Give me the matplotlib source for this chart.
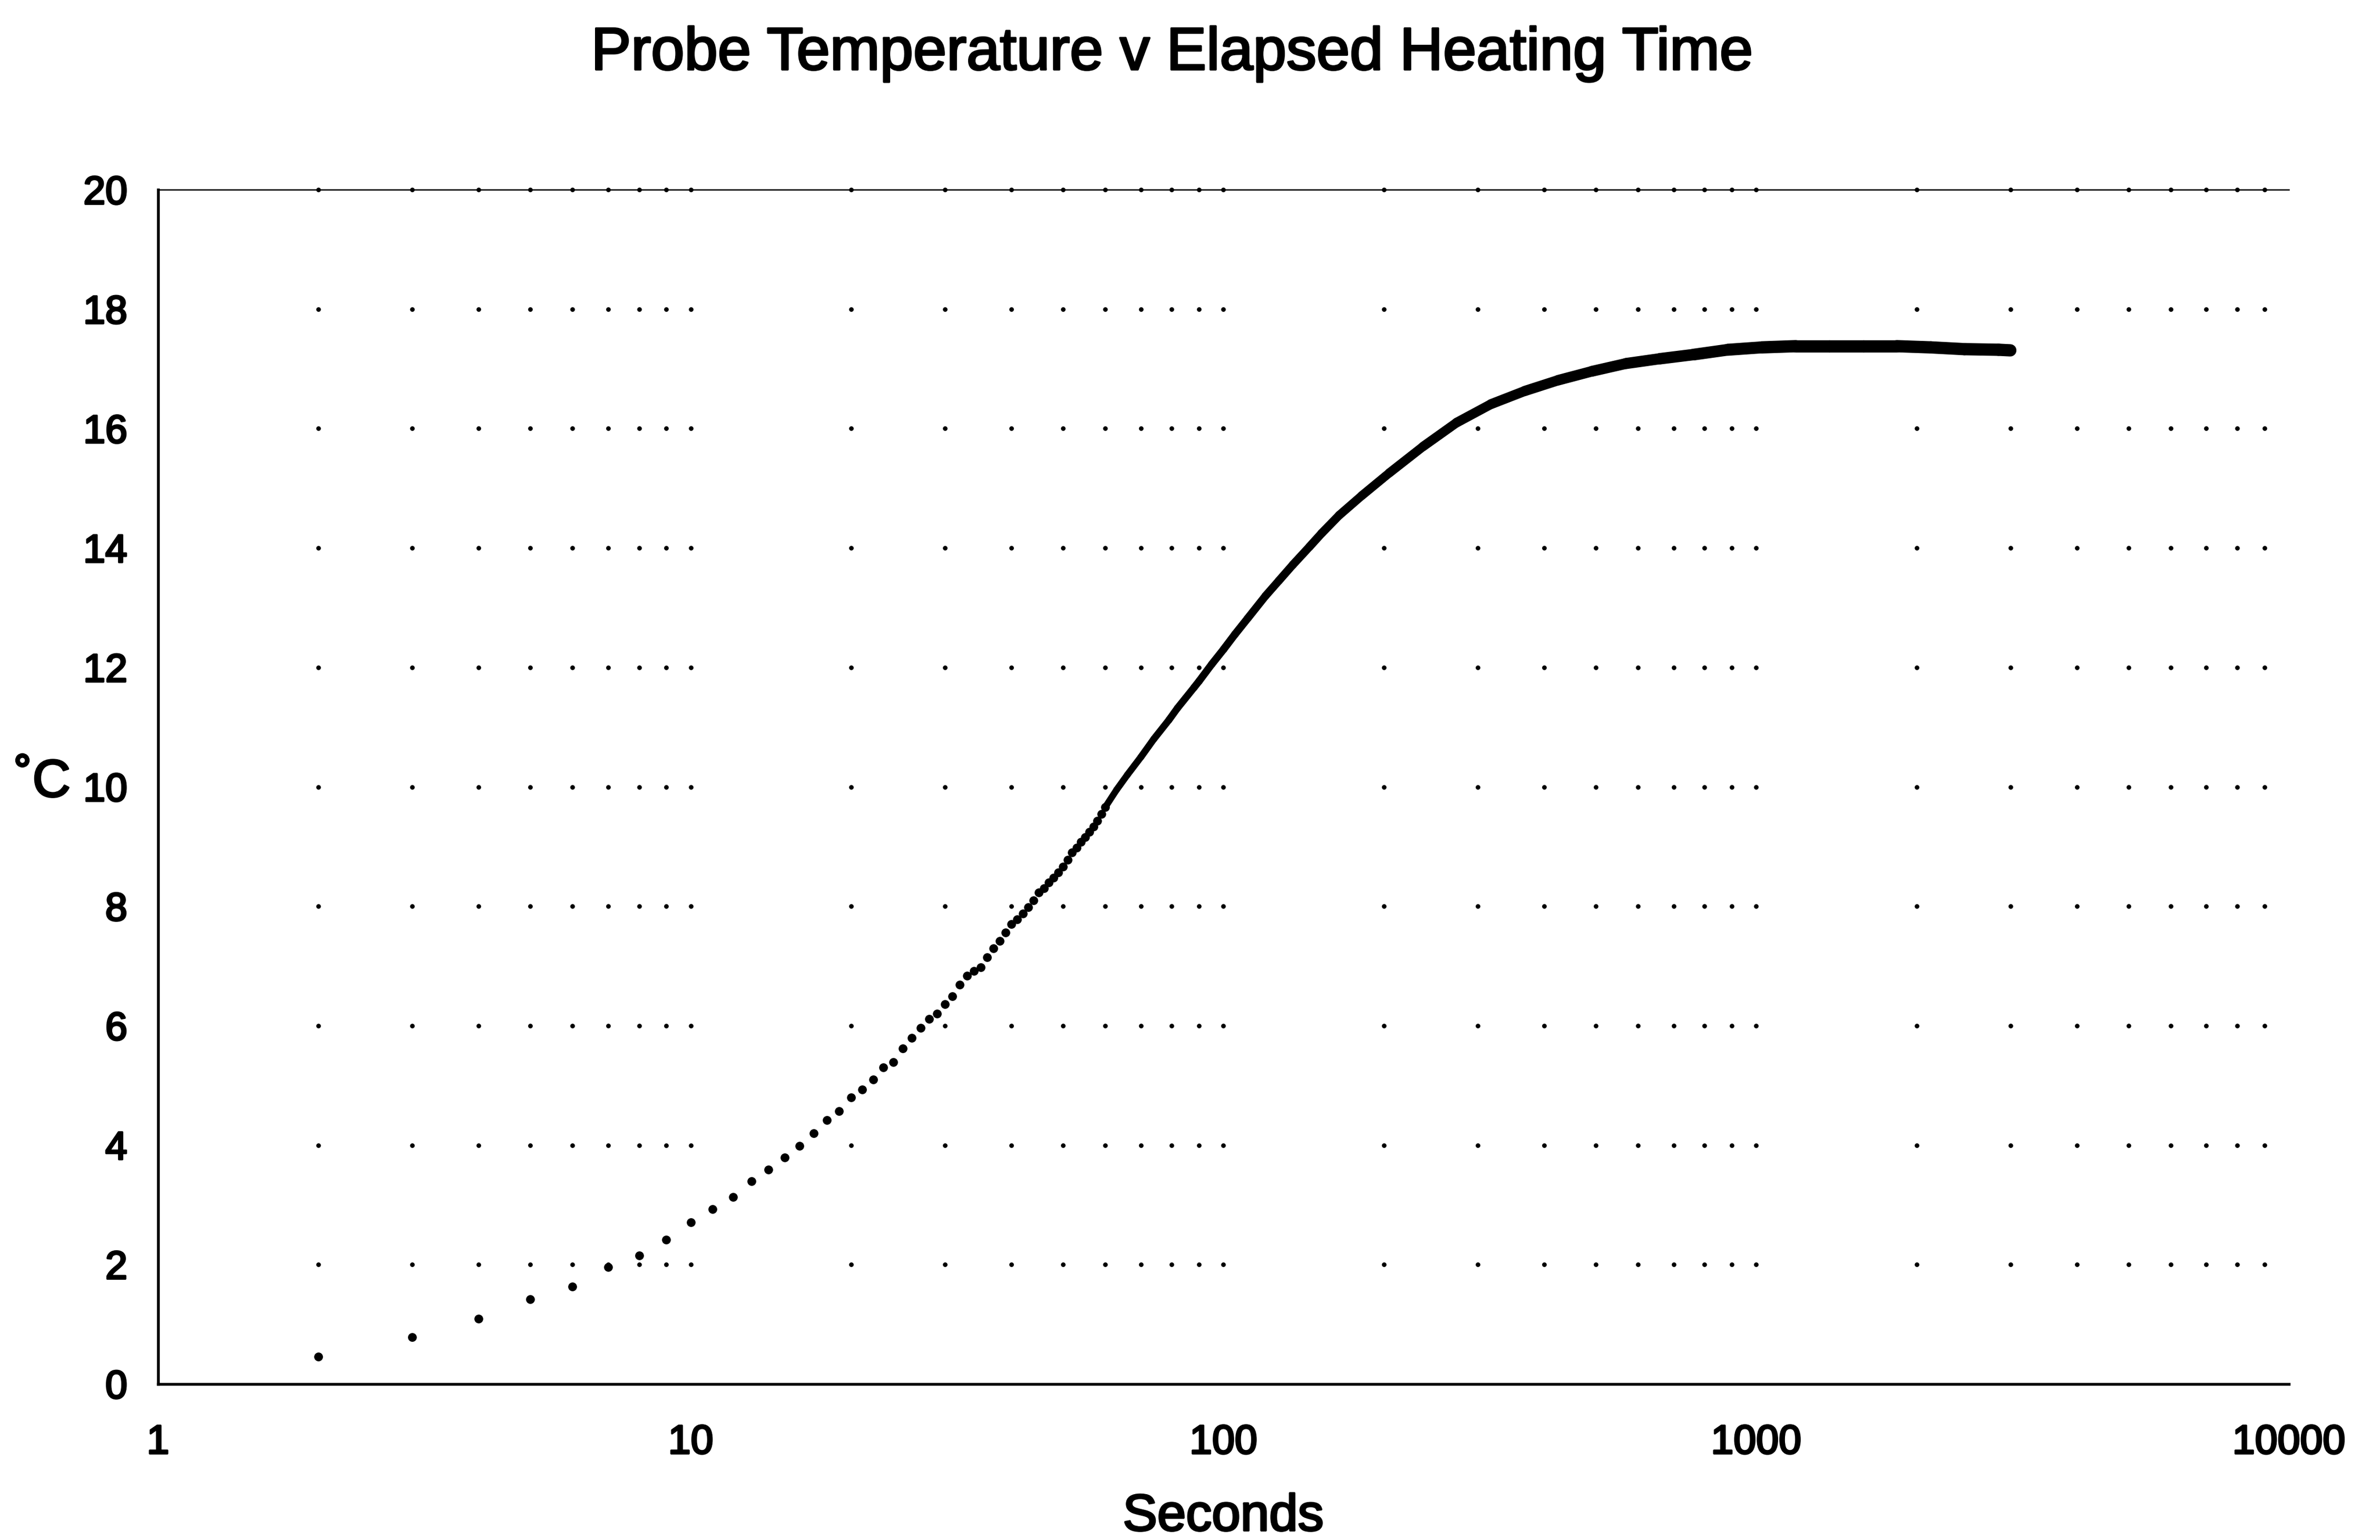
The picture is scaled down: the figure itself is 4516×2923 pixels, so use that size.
import matplotlib
matplotlib.use("Agg")
import matplotlib.pyplot as plt
import matplotlib.patheffects as pe
from matplotlib.collections import LineCollection
import numpy as np

plt.rcParams['font.family'] = ['Liberation Sans', 'DejaVu Sans']

# ---- data ----
# 1-second samples, individually visible in the early part
early_time = list(range(2, 61))
early_temp = [0.46, 0.78, 1.09, 1.42, 1.63, 1.96, 2.15, 2.42, 2.71, 2.93,
              3.13, 3.40, 3.59, 3.79, 3.99, 4.20, 4.42, 4.57, 4.80, 4.93,
              5.10, 5.30, 5.39, 5.62, 5.80, 5.96, 6.11, 6.20, 6.36, 6.49,
              6.69, 6.84, 6.92, 6.98, 7.15, 7.30, 7.42, 7.56, 7.70, 7.78,
              7.88, 7.98, 8.10, 8.23, 8.30, 8.40, 8.48, 8.57, 8.66, 8.78,
              8.90, 8.98, 9.08, 9.16, 9.25, 9.33, 9.43, 9.55, 9.66]
# later part, where the samples merge into a solid band
late_time = [60, 63, 66, 70, 74, 79, 82, 88, 90, 95, 100, 105, 111, 120, 127,
             135, 145, 153, 165, 182, 205, 237, 274, 318, 368, 425, 492, 570,
             660, 764, 885, 1024, 1186, 1372, 1589, 1838, 2128, 2460, 2850, 3000]
late_temp = [9.66, 9.95, 10.20, 10.50, 10.80, 11.12, 11.32, 11.66, 11.77, 12.05,
             12.30, 12.55, 12.82, 13.20, 13.45, 13.72, 14.02, 14.25, 14.55, 14.88,
             15.26, 15.70, 16.10, 16.41, 16.63, 16.81, 16.96, 17.09, 17.17, 17.24,
             17.32, 17.36, 17.38, 17.38, 17.38, 17.38, 17.36, 17.33, 17.32, 17.31]

x_ticks = [1, 10, 100, 1000, 10000]
x_ticklabels = ["1", "10", "100", "1000", "10000"]
y_ticks = [0, 2, 4, 6, 8, 10, 12, 14, 16, 18, 20]

title = "Probe Temperature v Elapsed Heating Time"
xlabel = "Seconds"
ylabel = "˚C"

thick = [pe.withStroke(linewidth=0.9, foreground="black")]

# ---- figure ----
fig = plt.figure(figsize=(4516 / 300, 2923 / 300), dpi=300)
ax = fig.add_axes([0.0664, 0.1013, 0.8953, 0.7755])
ax.set_xscale("log")
ax.set_xlim(1, 10000)
ax.set_ylim(0, 20)

# dotted grid, showing as dots at grid intersections
minor_x = [m * d for d in x_ticks[:-1] for m in range(1, 10)]
gx, gy = np.meshgrid([v for v in minor_x if v > 1], y_ticks[1:])
ax.plot(gx.ravel(), gy.ravel(), linestyle="none", marker="o", ms=1.1,
        color="black", zorder=1, clip_on=False)

# data: solid band where samples merge (band gets thicker with time)
pts = np.column_stack([late_time, late_temp])
segs = np.stack([pts[:-1], pts[1:]], axis=1)
lx = np.log10(np.asarray(late_time[:-1], dtype=float))
widths = 3.0 + 2.6 * np.clip((lx - np.log10(60)) / (3.0 - np.log10(60)), 0, 1)
lc = LineCollection(segs, colors="black", linewidths=widths, capstyle="round",
                    joinstyle="round", zorder=3)
ax.add_collection(lc)
ax.plot(early_time, early_temp, linestyle="none", marker="o", ms=3.0,
        color="black", zorder=3)

ax.set_xticks(x_ticks)
ax.set_xticklabels(x_ticklabels)
ax.xaxis.set_minor_locator(matplotlib.ticker.NullLocator())
ax.set_yticks(y_ticks)
ax.tick_params(axis="x", length=0, pad=18, labelsize=18.5)
ax.tick_params(axis="y", length=0, pad=14, labelsize=18)
for lab in ax.get_xticklabels() + ax.get_yticklabels():
    lab.set_path_effects(thick)

for s in ("left", "bottom"):
    ax.spines[s].set_linewidth(1.3)
ax.spines["top"].set_linewidth(0.6)
ax.spines["right"].set_visible(False)

fig.text(2224 / 4516, 1 - 132 / 2923, title, ha="center", va="baseline",
         fontsize=27.3, path_effects=thick)
fig.text(2321 / 4516, 1 - 2905 / 2923, xlabel, ha="center", va="baseline",
         fontsize=23.5, path_effects=thick)
fig.text(81 / 4516, 1 - 1486 / 2923, ylabel, ha="center", va="center",
         fontsize=24, path_effects=thick)

fig.savefig("out.png", dpi=300, facecolor="white")
